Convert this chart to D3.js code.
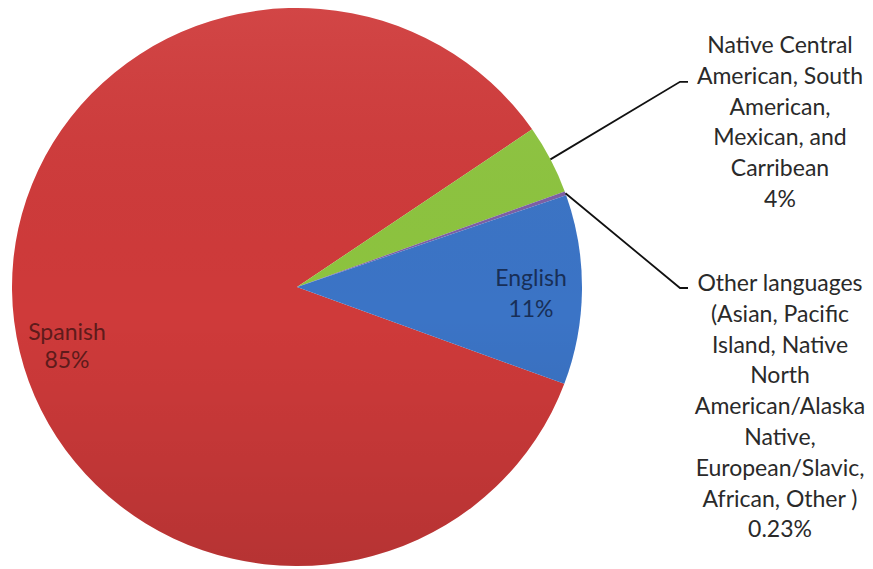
<!DOCTYPE html>
<html>
<head>
<meta charset="utf-8">
<script src="https://cdn.jsdelivr.net/npm/d3@7"></script>
<style>
  html, body { margin: 0; padding: 0; background: #ffffff; }
  svg { display: block; }
  text { font-family: Lato, "Open Sans", sans-serif; }
</style>
</head>
<body>
<svg id="chart" width="873" height="569"></svg>
<script>
// Home language shares, listed in clockwise drawing order
const categories = [
  "Spanish",
  "Native Central American, South American, Mexican, and Carribean",
  "Other languages (Asian, Pacific Island, Native North American/Alaska Native, European/Slavic, African, Other )",
  "English"
];
const values = [85, 4, 0.23, 11];
const valueLabels = ["85%", "4%", "0.23%", "11%"];
const colors = ["#cf3a3a", "#8dc43f", "#7d5fa6", "#3b74c6"];

// Label lines as they wrap on the page
const labelLines = [
  ["Spanish", "85%"],
  ["Native Central", "American, South", "American,", "Mexican, and", "Carribean", "4%"],
  ["Other languages", "(Asian, Pacific", "Island, Native", "North", "American/Alaska", "Native,", "European/Slavic,", "African, Other )", "0.23%"],
  ["English", "11%"]
];

const svg = d3.select("#chart");
const cx = 297, cy = 287, rx = 285, ry = 279, r = 282;
const firstSliceDeg = 110.3;
const a0 = firstSliceDeg * Math.PI / 180;

const pie = d3.pie().sort(null).value(d => d)
  .startAngle(a0).endAngle(a0 + 2 * Math.PI);
const arcs = pie(values);
const arc = d3.arc().innerRadius(0).outerRadius(r);

const defs = svg.append("defs");
const shade = defs.append("linearGradient")
  .attr("id", "shade").attr("x1", 0).attr("y1", 0).attr("x2", 0).attr("y2", 1);
shade.append("stop").attr("offset", "0%").attr("stop-color", "#ffffff").attr("stop-opacity", 0.06);
shade.append("stop").attr("offset", "55%").attr("stop-color", "#000000").attr("stop-opacity", 0.0);
shade.append("stop").attr("offset", "100%").attr("stop-color", "#000000").attr("stop-opacity", 0.12);

const g = svg.append("g")
  .attr("transform", `translate(${cx},${cy}) scale(${rx / r},${ry / r})`);

g.selectAll("path.slice")
  .data(arcs)
  .join("path")
  .attr("class", "slice")
  .attr("d", arc)
  .attr("fill", (d, i) => colors[i]);

g.append("circle").attr("r", r).attr("fill", "url(#shade)");

// point on the pie rim at a given angle (clockwise from 12 o'clock)
const rim = a => [cx + rx * Math.sin(a), cy - ry * Math.cos(a)];

const lineH = 30.8;
const fontSize = 23;

function drawLabel(lines, x, yFirst, fill, lh) {
  const t = svg.append("text")
    .attr("text-anchor", "middle")
    .attr("font-size", fontSize)
    .attr("fill", fill);
  lines.forEach((s, k) => {
    t.append("tspan").attr("x", x).attr("y", yFirst + k * lh + 8).text(s);
  });
}

// Labels inside the two large slices
drawLabel(labelLines[0], 67, 332, "#5e1b1b", 28);
drawLabel(labelLines[3], 531, 278, "#182f57", 31);

// Outside labels with leader lines for the two small slices
const outside = [
  { i: 1, x: 780, y: 45, elbowLine: 1, elbowOff: 6 },
  { i: 2, x: 780, y: 283, elbowLine: 0, elbowOff: 5 }
];
outside.forEach(o => {
  const d = arcs[o.i];
  const mid = (d.startAngle + d.endAngle) / 2;
  const p0 = rim(mid);
  const ey = o.y + o.elbowLine * lineH + o.elbowOff;
  const pts = [p0, [680, ey], [688, ey]];
  svg.append("path")
    .attr("d", d3.line()(pts))
    .attr("fill", "none")
    .attr("stroke", "#111")
    .attr("stroke-width", 1.8);
  drawLabel(labelLines[o.i], o.x, o.y, "#2a2a2a", lineH);
});
</script>
</body>
</html>
